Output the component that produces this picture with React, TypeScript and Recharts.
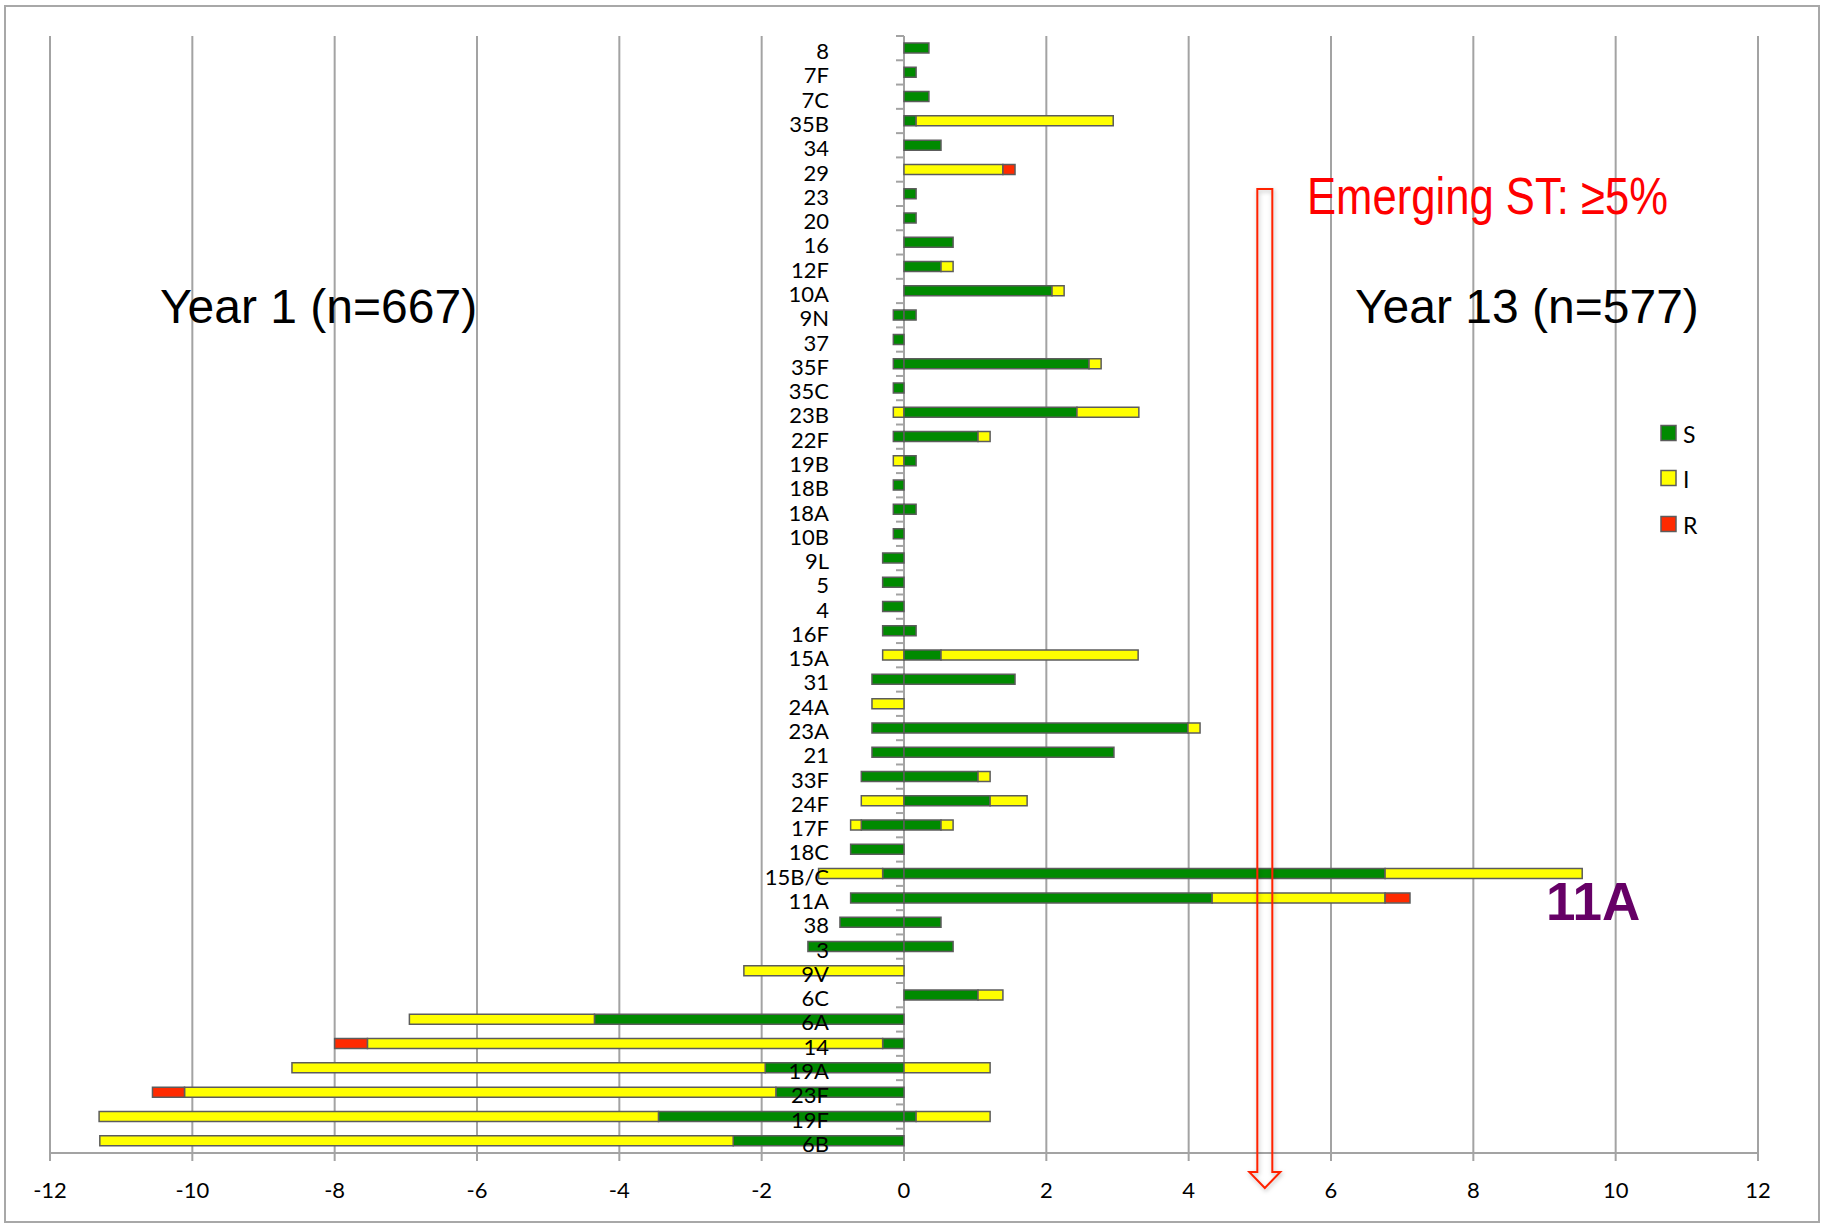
import React from 'react';
import { BarChart, Bar, XAxis, YAxis, CartesianGrid } from 'recharts';

const CATEGORIES = ['8','7F','7C','35B','34','29','23','20','16','12F','10A','9N','37','35F','35C','23B','22F','19B','18B','18A','10B','9L','5','4','16F','15A','31','24A','23A','21','33F','24F','17F','18C','15B/C','11A','38','3','9V','6C','6A','14','19A','23F','19F','6B'];

// Year 1 (n=667), plotted to the left (negative %)
const Y1_S = [0,0,0,0,0,0,0,0,0,0,0,-0.15,-0.15,-0.15,-0.15,0,-0.15,0,-0.15,-0.15,-0.15,-0.3,-0.3,-0.3,-0.3,0,-0.45,0,-0.45,-0.45,-0.6,0,-0.6,-0.75,-0.3,-0.75,-0.9,-1.35,0,0,-4.35,-0.3,-1.95,-1.8,-3.45,-2.4];
const Y1_I = [0,0,0,0,0,0,0,0,0,0,0,0,0,0,0,-0.15,0,-0.15,0,0,0,0,0,0,0,-0.3,0,-0.45,0,0,0,-0.6,-0.15,0,-0.9,0,0,0,-2.25,0,-2.6,-7.24,-6.65,-8.31,-7.86,-8.9];
const Y1_R = [0,0,0,0,0,0,0,0,0,0,0,0,0,0,0,0,0,0,0,0,0,0,0,0,0,0,0,0,0,0,0,0,0,0,0,0,0,0,0,0,0,-0.46,0,-0.45,0,0];

// Year 13 (n=577), plotted to the right (positive %)
const Y13_S = [0.35,0.17,0.35,0.17,0.52,0,0.17,0.17,0.69,0.52,2.08,0.17,0,2.6,0,2.43,1.04,0.17,0,0.17,0,0,0,0,0.17,0.52,1.56,0,3.99,2.95,1.04,1.21,0.52,0,6.76,4.33,0.52,0.69,0,1.04,0,0,0,0,0.17,0];
const Y13_I = [0,0,0,2.77,0,1.39,0,0,0,0.17,0.17,0,0,0.17,0,0.87,0.17,0,0,0,0,0,0,0,0,2.77,0,0,0.17,0,0.17,0.52,0.17,0,2.77,2.43,0,0,0,0.35,0,0,1.21,0,1.04,0];
const Y13_R = [0,0,0,0,0,0.17,0,0,0,0,0,0,0,0,0,0,0,0,0,0,0,0,0,0,0,0,0,0,0,0,0,0,0,0,0,0.35,0,0,0,0,0,0,0,0,0,0];

const X_TICKS = [-12,-10,-8,-6,-4,-2,0,2,4,6,8,10,12];
const LEGEND_ITEMS = [
  { label: 'S', color: '#008a00' },
  { label: 'I', color: '#ffff00' },
  { label: 'R', color: '#ff2a00' },
];
const EMERGING_AT = 5.07;

const rows = CATEGORIES.map((name, i) => ({
  name,
  y1S: Y1_S[i], y1I: Y1_I[i], y1R: Y1_R[i],
  y13S: Y13_S[i], y13I: Y13_I[i], y13R: Y13_R[i],
}));

const W = 1825;
const H = 1225;
const YAXIS_W = 1;
const MARGIN = { top: 36, right: 67, bottom: 32, left: 50 - YAXIS_W };
const XAXIS_H = 40;
const PLOT_L = MARGIN.left + YAXIS_W;
const PLOT_R = W - MARGIN.right;
const PLOT_T = MARGIN.top;
const PLOT_B = H - MARGIN.bottom - XAXIS_H;
const BAND = (PLOT_B - PLOT_T) / CATEGORIES.length;
const xPos = (v: number) => PLOT_L + ((v - X_TICKS[0]) / (X_TICKS[X_TICKS.length - 1] - X_TICKS[0])) * (PLOT_R - PLOT_L);

const GRID = '#a3a3a3';
const BAR_STROKE = '#5c5c5c';
const FONT = 'Lato, "Open Sans", sans-serif';

function CategoryTick(props: any) {
  const { y, payload, index } = props;
  const zx = xPos(0);
  const half = BAND / 2;
  return (
    <g>
      <text x={zx - 75} y={y} dy={11} textAnchor="end" fontFamily={FONT} fontSize={22} fill="#000">
        {payload && payload.value}
      </text>
      <line x1={zx - 8} x2={zx} y1={y - half} y2={y - half} stroke={GRID} strokeWidth={2} />
      {index === CATEGORIES.length - 1 ? (
        <line x1={zx - 8} x2={zx} y1={y + half} y2={y + half} stroke={GRID} strokeWidth={2} />
      ) : null}
    </g>
  );
}

function Overlay() {
  const ax = xPos(EMERGING_AT);
  const sw = 7.5;
  const hw = 15.5;
  const shaftTop = 189;
  const headTop = 1172;
  const tip = 1188;
  const arrowPath = `M ${ax - sw} ${shaftTop} L ${ax + sw} ${shaftTop} L ${ax + sw} ${headTop} L ${ax + hw} ${headTop} L ${ax} ${tip} L ${ax - hw} ${headTop} L ${ax - sw} ${headTop} Z`;
  const legendX = 1661;
  const legendY = [433, 478, 524];
  return (
    <svg width={W} height={H} style={{ position: 'absolute', left: 0, top: 0, pointerEvents: 'none' }}>
      <defs>
        <filter id="sh" x="-50%" y="-5%" width="200%" height="110%">
          <feDropShadow dx="1" dy="2" stdDeviation="2" floodColor="#000" floodOpacity="0.25" />
        </filter>
      </defs>
      <rect x={5} y={6} width={1814} height={1216} fill="none" stroke="#a8a8a8" strokeWidth={2} />
      <text x={160} y={323} fontFamily='"Liberation Sans", Arial, sans-serif' fontSize={48} fill="#000">Year 1 (n=667)</text>
      <text x={1355} y={323} fontFamily='"Liberation Sans", Arial, sans-serif' fontSize={48} fill="#000">Year 13 (n=577)</text>
      <text x={1307} y={214} fontFamily='"Liberation Sans Narrow", "Liberation Sans", Arial, sans-serif' fontSize={52} fill="#ff0000" textLength={361} lengthAdjust="spacingAndGlyphs">Emerging ST: ≥5%</text>
      <text x={1546} y={920} fontFamily='"Liberation Sans", Arial, sans-serif' fontWeight="bold" fontSize={53} fill="#660066">11A</text>
      <path d={arrowPath} fill="none" stroke="#ff2200" strokeWidth={2} strokeLinejoin="miter" filter="url(#sh)" />
      {LEGEND_ITEMS.map((it, i) => (
        <g key={it.label}>
          <rect x={legendX} y={legendY[i] - 7.5} width={15} height={15} fill={it.color} stroke={BAR_STROKE} strokeWidth={1.5} />
          <text x={legendX + 22} y={legendY[i] + 10} fontFamily={FONT} fontSize={23} fill="#000">{it.label}</text>
        </g>
      ))}
    </svg>
  );
}

export default function App() {
  return (
    <div style={{ position: 'absolute', left: 0, top: 0, width: W, height: H, background: '#fff' }}>
      <BarChart
        width={W}
        height={H}
        data={rows}
        layout="vertical"
        stackOffset="sign"
        margin={MARGIN}
        barSize={10}
      >
        <CartesianGrid horizontal={false} vertical={true} stroke={GRID} strokeWidth={2} />
        <XAxis
          type="number"
          domain={[X_TICKS[0], X_TICKS[X_TICKS.length - 1]]}
          ticks={X_TICKS}
          interval={0}
          height={XAXIS_H}
          axisLine={{ stroke: GRID, strokeWidth: 2 }}
          tickLine={{ stroke: GRID, strokeWidth: 2 }}
          tickSize={8}
          tickMargin={21}
          tick={{ fontFamily: FONT, fontSize: 22, fill: '#000' }}
        />
        <YAxis
          type="category"
          dataKey="name"
          width={YAXIS_W}
          interval={0}
          axisLine={false}
          tickLine={false}
          tick={(p: any) => <CategoryTick {...p} />}
        />
        <Bar dataKey="y1S" stackId="a" fill="#008a00" stroke={BAR_STROKE} strokeWidth={1.5} isAnimationActive={false} />
        <Bar dataKey="y1I" stackId="a" fill="#ffff00" stroke={BAR_STROKE} strokeWidth={1.5} isAnimationActive={false} />
        <Bar dataKey="y1R" stackId="a" fill="#ff2a00" stroke={BAR_STROKE} strokeWidth={1.5} isAnimationActive={false} />
        <Bar dataKey="y13S" stackId="a" fill="#008a00" stroke={BAR_STROKE} strokeWidth={1.5} isAnimationActive={false} />
        <Bar dataKey="y13I" stackId="a" fill="#ffff00" stroke={BAR_STROKE} strokeWidth={1.5} isAnimationActive={false} />
        <Bar dataKey="y13R" stackId="a" fill="#ff2a00" stroke={BAR_STROKE} strokeWidth={1.5} isAnimationActive={false} />
      </BarChart>
      <Overlay />
    </div>
  );
}
